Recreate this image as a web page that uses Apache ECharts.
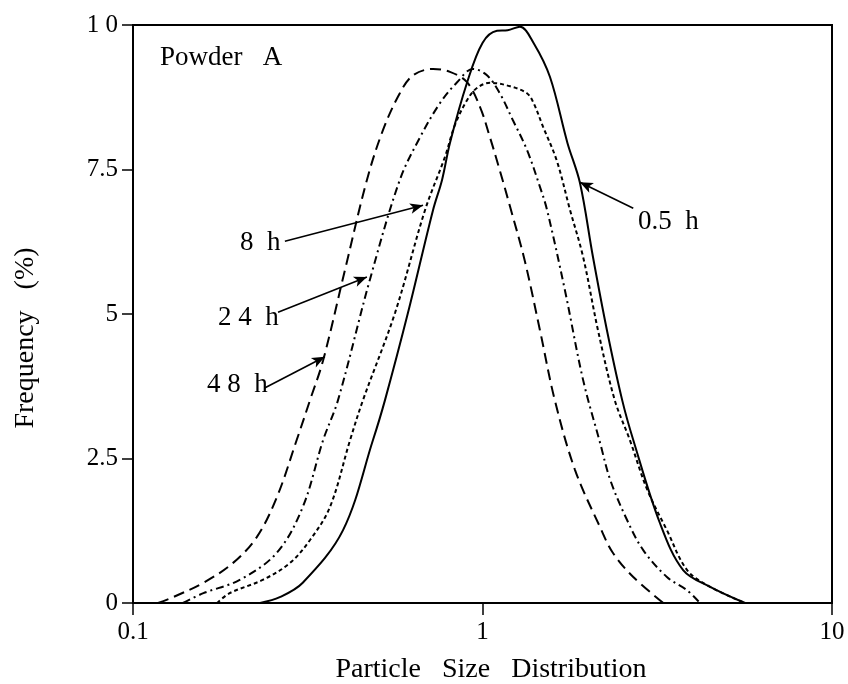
<!DOCTYPE html>
<html>
<head>
<meta charset="utf-8">
<script src="https://cdn.jsdelivr.net/npm/echarts@6/dist/echarts.min.js"></script>
<style>
  html, body { margin: 0; padding: 0; background: #fff; }
  #chart { width: 848px; height: 684px; }
</style>
</head>
<body>
<div id="chart"></div>
<script>
// Particle size distributions of Powder A after different milling times
const size05 = [0.231, 0.263, 0.306, 0.399, 0.486, 0.526, 0.612, 0.722, 0.766, 0.807, 0.903, 1.00, 1.10, 1.18, 1.28, 1.40, 1.56, 1.75, 1.90, 2.07, 2.27, 2.51, 2.70, 3.22, 3.75, 4.48, 5.64];
const freq05 = [0.00, 0.10, 0.35, 1.26, 2.82, 3.51, 5.02, 6.80, 7.32, 7.96, 9.00, 9.69, 9.90, 9.91, 9.97, 9.69, 9.10, 7.96, 7.27, 5.99, 4.72, 3.51, 2.82, 1.38, 0.57, 0.28, 0.00];

const size8 = [0.174, 0.189, 0.235, 0.281, 0.321, 0.366, 0.418, 0.455, 0.562, 0.685, 0.781, 0.834, 0.903, 0.964, 1.05, 1.20, 1.34, 1.40, 1.49, 1.63, 1.78, 1.94, 2.14, 2.39, 2.64, 2.96, 3.37, 3.85, 4.48, 5.64];
const freq8 = [0.00, 0.17, 0.40, 0.69, 1.09, 1.66, 2.82, 3.51, 5.02, 6.80, 7.72, 8.27, 8.70, 8.91, 9.00, 8.94, 8.82, 8.65, 8.24, 7.66, 6.80, 5.99, 4.72, 3.51, 2.82, 1.96, 1.26, 0.57, 0.28, 0.00];

const size24 = [0.139, 0.159, 0.202, 0.258, 0.306, 0.350, 0.386, 0.476, 0.580, 0.663, 0.756, 0.846, 0.939, 1.03, 1.12, 1.22, 1.34, 1.46, 1.53, 1.72, 1.94, 2.17, 2.32, 2.59, 2.88, 3.37, 3.85, 4.19];
const freq24 = [0.00, 0.17, 0.40, 0.87, 1.66, 2.82, 3.51, 5.59, 7.32, 8.06, 8.65, 9.01, 9.24, 9.13, 8.82, 8.36, 7.84, 7.20, 6.80, 5.42, 3.86, 2.77, 2.13, 1.44, 0.92, 0.45, 0.22, 0.00];

const size48 = [0.118, 0.130, 0.159, 0.193, 0.226, 0.258, 0.294, 0.321, 0.350, 0.404, 0.467, 0.519, 0.580, 0.633, 0.722, 0.807, 0.903, 0.984, 1.05, 1.12, 1.20, 1.32, 1.46, 1.61, 1.84, 2.17, 2.36, 2.70, 3.29];
const freq48 = [0.00, 0.10, 0.35, 0.69, 1.14, 1.83, 2.82, 3.51, 4.20, 5.76, 7.32, 8.18, 8.82, 9.13, 9.24, 9.19, 9.01, 8.58, 8.06, 7.49, 6.85, 5.93, 4.72, 3.51, 2.30, 1.31, 0.87, 0.45, 0.00];

const xTickLabels = { 0.1: '0.1', 1: '1', 10: '10' };
const yTickLabels = { 0: '0', 2.5: '2.5', 5: '5', 7.5: '7.5', 10: '1 0' };

// Callout arrows for each curve: [label-side point, curve-side point] in data units
const arrow05 = [[2.70, 6.83], [1.90, 7.28]];
const arrow8 = [[0.272, 6.26], [0.676, 6.88]];
const arrow24 = [[0.260, 5.03], [0.467, 5.64]];
const arrow48 = [[0.238, 3.72], [0.354, 4.26]];

const FONT = '"Liberation Serif", "DejaVu Serif", serif';
const zip = (xs, ys) => xs.map((x, i) => [x, ys[i]]);

const arrowLine = (pair) => [{ coord: pair[0] }, { coord: pair[1] }];

function curve(name, xs, ys, lineType, extra) {
  return Object.assign({
    name: name,
    type: 'line',
    data: zip(xs, ys),
    smooth: 0.35,
    showSymbol: false,
    symbol: 'none',
    lineStyle: { color: '#000', width: 2, type: lineType },
    z: 3
  }, extra || {});
}

const chart = echarts.init(document.getElementById('chart'), null, { renderer: 'canvas' });

const annot = (text, left, top) => ({
  type: 'text', left: left, top: top,
  style: { text: text, font: '27px ' + FONT, fill: '#000' }
});

chart.setOption({
  animation: false,
  backgroundColor: '#fff',
  grid: {
    left: 133, right: 16, top: 25, bottom: 81,
    containLabel: false,
    outerBoundsMode: 'none',
    show: true, borderColor: '#000', borderWidth: 2, backgroundColor: 'transparent'
  },
  xAxis: {
    type: 'log',
    logBase: 10,
    min: 0.1,
    max: 10,
    name: 'Particle   Size   Distribution',
    nameLocation: 'middle',
    nameGap: 53,
    nameTextStyle: { fontFamily: FONT, fontSize: 28, color: '#000', padding: [0, 0, 0, 17] },
    axisLine: { show: true, lineStyle: { color: '#000', width: 2 } },
    axisTick: { show: true, inside: false, length: 12, lineStyle: { color: '#000', width: 1.5 } },
    minorTick: { show: false },
    splitLine: { show: false },
    axisLabel: {
      margin: 17,
      fontFamily: FONT, fontSize: 25, color: '#000',
      formatter: (v) => xTickLabels[Math.round(v * 10) / 10] || ''
    }
  },
  yAxis: {
    type: 'value',
    min: 0,
    max: 10,
    interval: 2.5,
    name: 'Frequency   (%)',
    nameLocation: 'middle',
    nameGap: 93,
    nameRotate: 90,
    nameTextStyle: { fontFamily: FONT, fontSize: 28, color: '#000', padding: [0, 48, 0, 0] },
    axisLine: { show: true, lineStyle: { color: '#000', width: 2 } },
    axisTick: { show: true, inside: false, length: 11, lineStyle: { color: '#000', width: 1.5 } },
    splitLine: { show: false },
    axisLabel: {
      margin: 15,
      fontFamily: FONT, fontSize: 25, color: '#000',
      formatter: (v) => yTickLabels[v] !== undefined ? yTickLabels[v] : ''
    }
  },
  series: [
    curve('0.5 h', size05, freq05, 'solid', {
      markLine: {
        silent: true, symbol: ['none', 'arrow'], symbolSize: [8, 13],
        label: { show: false },
        lineStyle: { color: '#000', width: 1.6, type: 'solid' },
        data: [arrowLine(arrow05), arrowLine(arrow8), arrowLine(arrow24), arrowLine(arrow48)]
      }
    }),
    curve('8 h', size8, freq8, [4, 3]),
    curve('24 h', size24, freq24, [8, 4, 2, 4]),
    curve('48 h', size48, freq48, [11, 6])
  ],
  graphic: [
    annot('Powder   A', 160, 44),
    annot('0.5  h', 638, 208),
    annot('8  h', 240, 229),
    annot('2 4  h', 218, 304),
    annot('4 8  h', 207, 371)
  ]
});
</script>
</body>
</html>
